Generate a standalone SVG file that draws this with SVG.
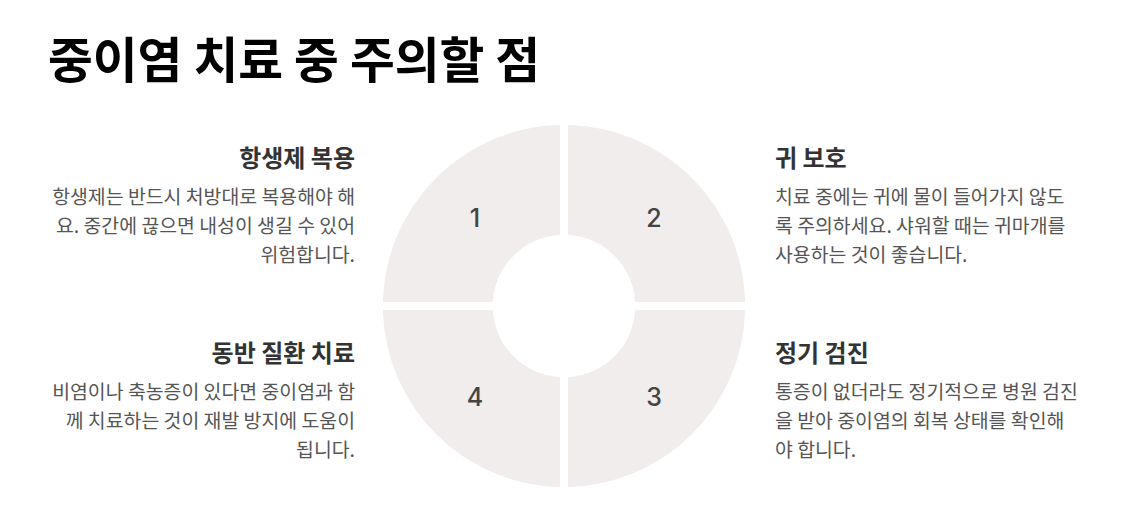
<svg xmlns="http://www.w3.org/2000/svg" width="1131" height="522" viewBox="0 0 1131 522">
<style>
text{font-family:"Noto Sans CJK KR","Noto Sans",sans-serif}
.title{font-size:48.7px;font-weight:700;fill:#000}
.piece{fill:#F0EDEC;stroke:#F0EDEC;stroke-width:2;stroke-linejoin:round}
.num{font-size:25px;font-weight:500;fill:#444;text-anchor:middle;font-family:Inter,"Noto Sans",sans-serif}
.h{font-size:24px;font-weight:700;fill:#333}
.b{font-size:19.4px;fill:#555}
.r{text-anchor:end}
</style>
<rect width="1131" height="522" fill="#fff"/>
<text class="title" x="48" y="78">중이염 치료 중 주의할 점</text>
<g id="node1">
<path class="piece" d="M559,126 L559,234 A72,72 0 0 0 492,301 L384,301 A180,180 0 0 1 559,126 Z"/>
<text class="num" x="475" y="227">1</text>
</g>
<g id="node2">
<path class="piece" d="M569,126 L569,234 A72,72 0 0 1 636,301 L744,301 A180,180 0 0 0 569,126 Z"/>
<text class="num" x="654" y="227">2</text>
</g>
<g id="node3">
<path class="piece" d="M569,486 L569,378 A72,72 0 0 0 636,311 L744,311 A180,180 0 0 1 569,486 Z"/>
<text class="num" x="654" y="406">3</text>
</g>
<g id="node4">
<path class="piece" d="M559,486 L559,378 A72,72 0 0 1 492,311 L384,311 A180,180 0 0 0 559,486 Z"/>
<text class="num" x="475" y="406">4</text>
</g>
<g id="text1">
<text class="h r" x="355" y="167">항생제 복용</text>
<text class="b r" x="355" y="204">항생제는 반드시 처방대로 복용해야 해</text>
<text class="b r" x="355" y="233">요. 중간에 끊으면 내성이 생길 수 있어</text>
<text class="b r" x="355" y="262">위험합니다.</text>
</g>
<g id="text2">
<text class="h" x="775" y="167">귀 보호</text>
<text class="b" x="775" y="204">치료 중에는 귀에 물이 들어가지 않도</text>
<text class="b" x="775" y="233">록 주의하세요. 샤워할 때는 귀마개를</text>
<text class="b" x="775" y="262">사용하는 것이 좋습니다.</text>
</g>
<g id="text4">
<text class="h r" x="355" y="362">동반 질환 치료</text>
<text class="b r" x="355" y="399">비염이나 축농증이 있다면 중이염과 함</text>
<text class="b r" x="355" y="428">께 치료하는 것이 재발 방지에 도움이</text>
<text class="b r" x="355" y="457">됩니다.</text>
</g>
<g id="text3">
<text class="h" x="775" y="362">정기 검진</text>
<text class="b" x="775" y="399">통증이 없더라도 정기적으로 병원 검진</text>
<text class="b" x="775" y="428">을 받아 중이염의 회복 상태를 확인해</text>
<text class="b" x="775" y="457">야 합니다.</text>
</g>
<g id="connectors"/>
</svg>
